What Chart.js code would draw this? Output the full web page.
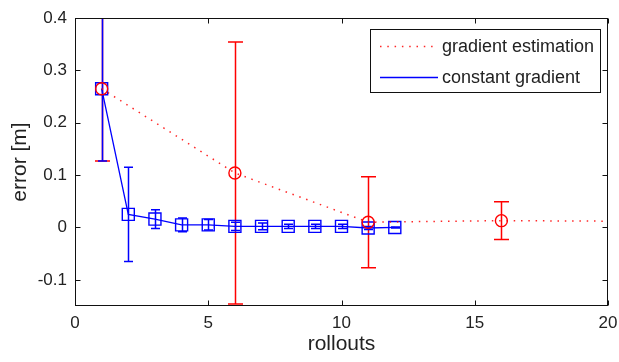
<!DOCTYPE html>
<html><head><meta charset="utf-8">
<script src="https://cdn.jsdelivr.net/npm/chart.js@4/dist/chart.umd.min.js"></script>
<style>html,body{margin:0;padding:0;background:#fff}</style>
</head><body>
<canvas id="c" width="619" height="362"></canvas>
<script>
// ---- data ----
const gradLabel = 'gradient estimation';
const constLabel = 'constant gradient';
const gradX = [1, 6, 11, 16, 20];
const gradY = [0.265, 0.104, 0.010, 0.013, 0.012];
const gradErr = [0.138, 0.25, 0.087, 0.036, null];
const gradMarker = [true, true, true, true, false];
const constX = [1, 2, 3, 4, 5, 6, 7, 8, 9, 10, 11, 12];
const constY = [0.265, 0.025, 0.016, 0.005, 0.005, 0.002, 0.002, 0.002, 0.002, 0.002, -0.001, 0.0];
const constErr = [0.138, 0.09, 0.018, 0.013, 0.01, 0.008, 0.0065, 0.004, 0.004, 0.004, 0.003, 0.001];
const xTicks = [0, 5, 10, 15, 20];
const yTicks = [-0.1, 0, 0.1, 0.2, 0.3, 0.4];
const yTickLabels = ['-0.1', '0', '0.1', '0.2', '0.3', '0.4'];
const xTitle = 'rollouts';
const yTitle = 'error [m]';

const FONT = "'Liberation Sans', Arial, sans-serif";
const RED = '#ff0000';
const BLUE = '#0000ff';

const toPts = (xs, ys) => xs.map((x, i) => ({x: x, y: ys[i]}));

const decor = {
  id: 'decor',
  beforeDraw(chart) {
    const ctx = chart.ctx;
    ctx.save();
    ctx.fillStyle = '#fff';
    ctx.fillRect(0, 0, chart.width, chart.height);
    ctx.restore();
  },
  beforeDatasetsDraw(chart) {
    const ctx = chart.ctx, a = chart.chartArea;
    const xs = chart.scales.x, ys = chart.scales.y;
    ctx.save();
    ctx.beginPath();
    ctx.rect(a.left, a.top, a.right - a.left, a.bottom - a.top);
    ctx.clip();
    const bars = (X, Y, E, color, cap, lw) => {
      ctx.strokeStyle = color;
      ctx.lineWidth = lw;
      X.forEach((xv, i) => {
        if (E[i] == null) return;
        const px = Math.round(xs.getPixelForValue(xv)) + 0.5;
        const t = ys.getPixelForValue(Y[i] + E[i]);
        const b = ys.getPixelForValue(Y[i] - E[i]);
        ctx.beginPath();
        ctx.moveTo(px, t); ctx.lineTo(px, b);
        ctx.moveTo(px - cap, t); ctx.lineTo(px + cap, t);
        ctx.moveTo(px - cap, b); ctx.lineTo(px + cap, b);
        ctx.stroke();
      });
    };
    bars(gradX, gradY, gradErr, RED, 7.5, 1.5);
    bars(constX, constY, constErr, BLUE, 4.5, 1.5);
    ctx.restore();
  },
  afterDatasetsDraw(chart) {
    const ctx = chart.ctx, a = chart.chartArea;
    const xs = chart.scales.x, ys = chart.scales.y;
    ctx.save();
    ctx.strokeStyle = '#111';
    ctx.lineWidth = 1;
    const L = Math.round(a.left) + 0.5, R = Math.round(a.right) - 0.5;
    const T = Math.round(a.top) + 0.5, B = Math.round(a.bottom) - 0.5;
    ctx.strokeRect(L, T, R - L, B - T);
    const tl = 5;
    ctx.beginPath();
    xTicks.forEach(v => {
      const p = Math.round(xs.getPixelForValue(v)) + 0.5;
      ctx.moveTo(p, B); ctx.lineTo(p, B - tl);
      ctx.moveTo(p, T); ctx.lineTo(p, T + tl);
    });
    yTicks.forEach(v => {
      const p = Math.round(ys.getPixelForValue(v)) + 0.5;
      ctx.moveTo(L, p); ctx.lineTo(L + tl, p);
      ctx.moveTo(R, p); ctx.lineTo(R - tl, p);
    });
    ctx.stroke();

    // legend box
    const bx = 370.5, by = 29.5, bw = 230, bh = 63;
    ctx.fillStyle = '#fff';
    ctx.fillRect(bx, by, bw, bh);
    ctx.strokeStyle = '#111';
    ctx.strokeRect(bx, by, bw, bh);
    const items = chart.data.datasets;
    const rowsY = [46, 77];
    items.forEach((ds, i) => {
      const yy = rowsY[i] + 0.5;
      ctx.beginPath();
      ctx.strokeStyle = ds.borderColor;
      ctx.lineWidth = ds.borderWidth;
      ctx.setLineDash(ds.borderDash || []);
      ctx.moveTo(380, yy); ctx.lineTo(438, yy);
      ctx.stroke();
      ctx.setLineDash([]);
      ctx.fillStyle = '#222';
      ctx.font = '18px ' + FONT;
      ctx.textBaseline = 'middle';
      ctx.textAlign = 'left';
      ctx.fillText(ds.label, 442, rowsY[i] + 1);
    });
    ctx.restore();
  }
};

new Chart(document.getElementById('c'), {
  type: 'scatter',
  data: {
    datasets: [
      {
        label: gradLabel,
        data: toPts(gradX, gradY),
        showLine: true,
        borderColor: 'rgba(255,0,0,0.85)',
        borderWidth: 1.5,
        borderDash: [1.5, 5.8],
        pointStyle: 'circle',
        pointRadius: gradMarker.map(m => m ? 6 : 0),
        pointBorderColor: RED,
        pointBorderWidth: 1.4,
        pointBackgroundColor: 'rgba(0,0,0,0)',
        order: 1
      },
      {
        label: constLabel,
        data: toPts(constX, constY),
        showLine: true,
        borderColor: BLUE,
        borderWidth: 1.3,
        pointStyle: 'rect',
        pointRadius: 8.5,
        pointBorderColor: BLUE,
        pointBorderWidth: 1.4,
        pointBackgroundColor: 'rgba(0,0,0,0)',
        order: 2
      }
    ]
  },
  options: {
    responsive: false,
    animation: false,
    devicePixelRatio: 1,
    layout: {padding: {top: 18, right: 11, left: 0, bottom: 0}},
    plugins: {legend: {display: false}, tooltip: {enabled: false}},
    scales: {
      x: {
        type: 'linear', min: 0, max: 20,
        afterBuildTicks: s => { s.ticks = xTicks.map(v => ({value: v})); },
        afterFit: s => { s.height = 56; s.paddingLeft = 0; s.paddingRight = 0; },
        grid: {display: false, drawTicks: false},
        border: {display: false},
        ticks: {font: {family: FONT, size: 17}, color: '#222', padding: 7, maxRotation: 0, autoSkip: false},
        title: {display: true, text: xTitle, font: {family: FONT, size: 21}, color: '#222', padding: {top: 0, bottom: 5}}
      },
      y: {
        type: 'linear', min: -0.15, max: 0.4,
        afterBuildTicks: s => { s.ticks = yTicks.map(v => ({value: v})); },
        afterFit: s => { s.width = 75; s.paddingTop = 0; s.paddingBottom = 0; },
        grid: {display: false, drawTicks: false},
        border: {display: false},
        ticks: {font: {family: FONT, size: 17}, color: '#222', padding: 8, autoSkip: false,
          callback: (v, i) => yTickLabels[i]},
        title: {display: true, text: yTitle, font: {family: FONT, size: 21}, color: '#222', padding: {top: 8, bottom: 0}}
      }
    }
  },
  plugins: [decor]
});
</script>
</body></html>
